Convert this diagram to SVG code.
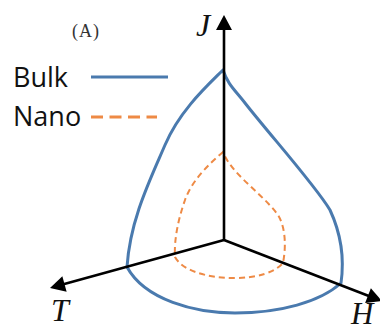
<svg xmlns="http://www.w3.org/2000/svg" width="380" height="331" viewBox="0 0 380 331">
<defs>
<style>
.axis{stroke:#000;stroke-width:2.6;fill:none}
.bulk{stroke:#4A7AAE;stroke-width:3;fill:none;stroke-linejoin:round}
.nano{stroke:#EE8A45;stroke-width:2;fill:none;stroke-dasharray:6 4}
.leg{font-family:"Open Sans",sans-serif;font-size:27px;fill:#111}
.ax{font-family:"Liberation Serif",serif;font-style:italic;font-size:32px;fill:#111}
</style>
<marker id="arr" viewBox="0 -8 15 16" refX="3" refY="0" markerWidth="15" markerHeight="16" markerUnits="userSpaceOnUse" orient="auto" overflow="visible">
<path d="M0,-8 L15,0 L0,8 Z" fill="#000"/>
</marker>
</defs>
<rect width="380" height="331" fill="#fff"/>
<text x="72" y="37" font-family="Liberation Serif,serif" font-size="18" fill="#333" textLength="27">(A)</text>
<g id="legend">
<text class="leg" x="13" y="87">Bulk</text>
<line class="bulk" x1="91" y1="77" x2="168" y2="77"/>
<text class="leg" x="13" y="126">Nano</text>
<line class="nano" x1="91" y1="117" x2="157" y2="117" style="stroke-width:3;stroke-dasharray:12 6.5"/>
</g>
<g id="bulk">
<path class="bulk" d="M223,70 C208,85 180,110 165,145 C150,180 130,220 127,267 C145,300 195,313 235,313 C280,313 320,302 341,283 C344,262 343,238 330,210 C315,185 270,135 245,103 C235,90 228,85 223,70 Z"/>
</g>
<g id="nano">
<path class="nano" d="M223,152 C210,163 192,180 185,200 C178,220 174,240 175,257 C182,270 205,278 235,278 C258,278 275,272 283,263 C286,248 286,228 278,215 C262,193 232,175 223,152 Z"/>
</g>
<g id="axes">
<line class="axis" x1="224" y1="240" x2="224" y2="27" marker-end="url(#arr)"/>
<line class="axis" x1="224" y1="240" x2="61.6" y2="284.8" marker-end="url(#arr)"/>
<line class="axis" x1="224" y1="240" x2="370.8" y2="296.7" marker-end="url(#arr)"/>
</g>
<g id="labels">
<text class="ax" x="196" y="36">J</text>
<text class="ax" x="51" y="321">T</text>
<text class="ax" x="351" y="324" style="font-size:31px">H</text>
</g>
</svg>
